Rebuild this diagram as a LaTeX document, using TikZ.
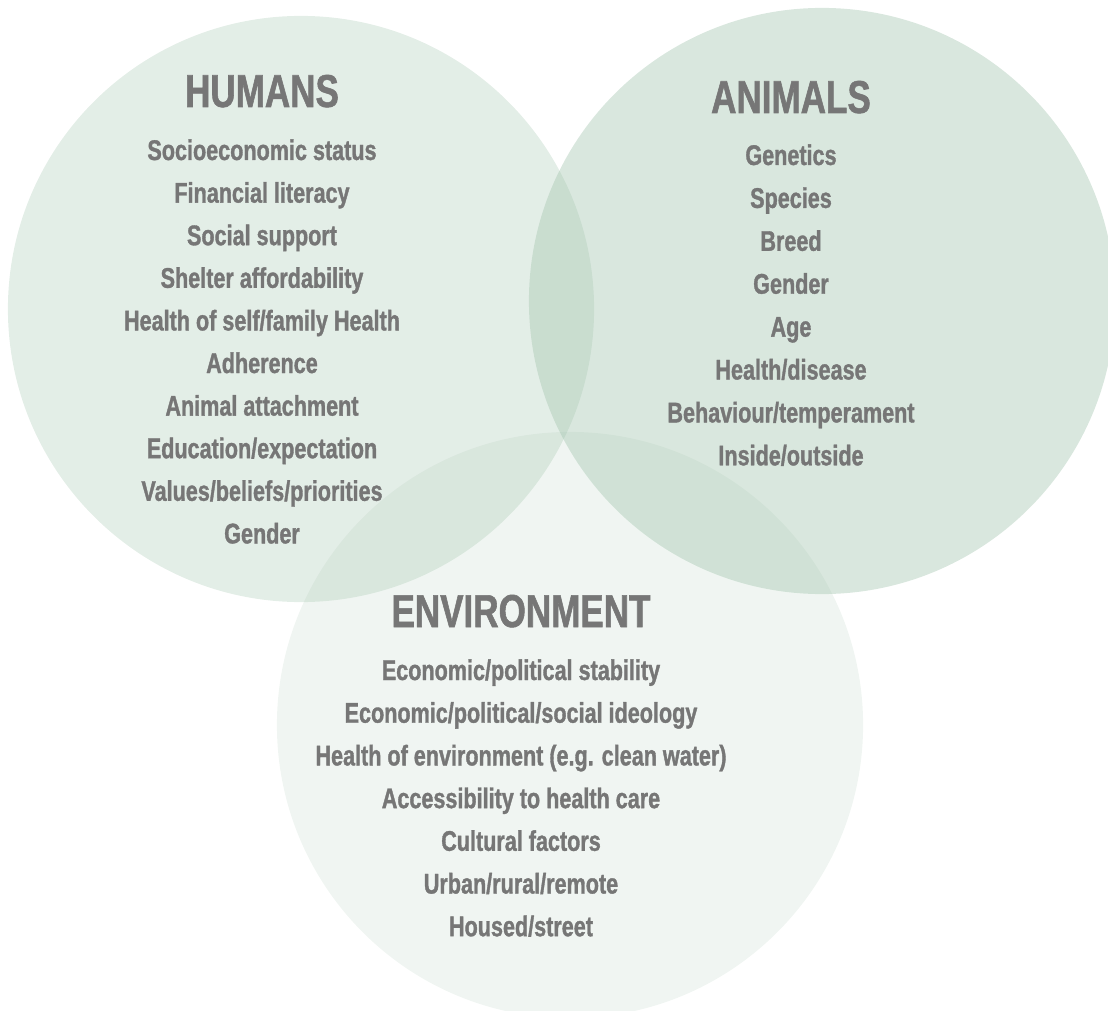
\documentclass[tikz,border=0pt]{standalone}
\usepackage{fontspec}
\setmainfont[FakeStretch=0.76, BoldFeatures={FakeBold=1.2}]{Liberation Sans}
\definecolor{venngreen}{RGB}{160,195,172}
\definecolor{labelgrey}{RGB}{118,118,118}

\tikzset{
  venn/.style={circle, fill=venngreen, minimum size=14.65cm, inner sep=0pt},
  heading/.style={anchor=base, text=labelgrey, font=\bfseries\fontsize{32.8}{36}\selectfont},
  factor/.style={anchor=base, text=labelgrey, font=\bfseries\fontsize{20.2}{24}\selectfont}
}

\begin{document}
\begin{tikzpicture}[x=0.025cm, y=-0.025cm]
    \useasboundingbox (0,0) rectangle (1108,1010);
    \clip (0,0) rectangle (1108,1010);

    % Circles
    \node[venn, fill opacity=0.29] (humans) at (301,309) {};
    \node[venn, fill opacity=0.40] (animals) at (822,301) {};
    \node[venn, fill opacity=0.16] (environment) at (570,725) {};

    % Headings
    \node[heading] (humanshead) at (262,107) {HUMANS};
    \node[heading] (animalshead) at (791,113) {ANIMALS};
    \node[heading] (envhead) at (521,627) {ENVIRONMENT};

    % Factors
    \foreach \txt [count=\i] in {Socioeconomic status, Financial literacy, Social support,
        Shelter affordability, Health of self/family Health, Adherence, Animal attachment,
        Education/expectation, Values/beliefs/priorities, Gender}
        \node[factor] (hum\i) at (262,{160+42.6*(\i-1)}) {\txt};
    \foreach \txt [count=\i] in {Genetics, Species, Breed, Gender, Age, Health/disease,
        Behaviour/temperament, Inside/outside}
        \node[factor] (ani\i) at (791,{165+42.9*(\i-1)}) {\txt};
    \foreach \txt [count=\i] in {Economic/political stability, Economic/political/social ideology,
        {Health of environment (e.g. clean water)}, Accessibility to health care,
        Cultural factors, Urban/rural/remote, Housed/street}
        \node[factor] (env\i) at (521,{680+42.7*(\i-1)}) {\txt};
\end{tikzpicture}
\end{document}
